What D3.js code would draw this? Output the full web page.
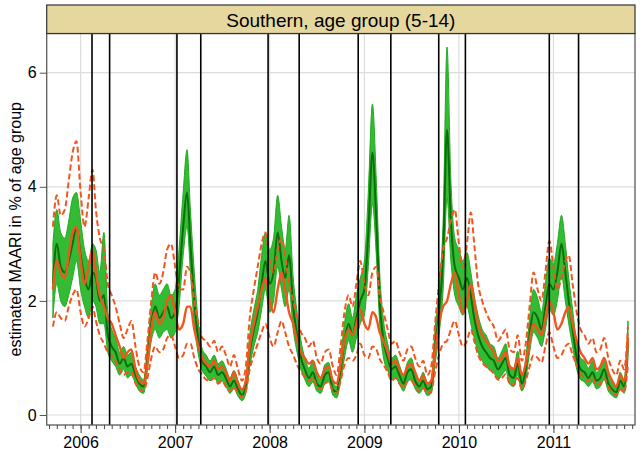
<!DOCTYPE html>
<html>
<head>
<meta charset="utf-8">
<script src="https://d3js.org/d3.v7.min.js"></script>
<style>
  body { margin: 0; background: #fff; }
  svg { display: block; font-family: "Liberation Sans", Arial, sans-serif; }
</style>
</head>
<body>
<svg id="chart" width="641" height="456"></svg>
<script>
// ---- data (semi-monthly samples, 16 Sep 2005 .. 16 Oct 2011) ----
const title = "Southern, age group (5-14)";
const yLabel = "estimated MAARI in % of age group";
const yTicks = [0, 2, 4, 6];
const yearTicks = [2006, 2007, 2008, 2009, 2010, 2011];

// start / end of epidemic periods (black vertical lines)
const periodLines = ["2006-02-14", "2006-04-23", "2007-01-08", "2007-04-10",
  "2007-12-26", "2008-04-24", "2008-12-08", "2009-04-13",
  "2009-10-15", "2010-01-26", "2010-12-16", "2011-04-08"];

// green: estimate (median) with band
const greenMed = [
  2.3, 3.0, 2.6, 2.5, 2.7, 3.0, 3.3, 2.8, 2.4, 2.2, 2.5, 2.4, 2.0, 2.1, 1.4, 1.2, 1.1, 0.9, 1.0, 0.85, 0.9, 0.7, 0.55, 0.5, 1.0,
  1.6, 1.9, 1.7, 1.8, 1.9, 1.7, 1.8, 2.4, 3.3, 3.9, 3.0, 2.0, 1.3, 0.95, 0.85, 0.75, 0.85, 0.7, 0.75, 0.65, 0.5, 0.6, 0.45, 0.35, 0.5,
  1.1, 1.5, 1.8, 2.3, 2.7, 2.3, 2.5, 3.2, 2.7, 2.4, 2.8, 1.9, 1.4, 1.0, 0.8, 0.65, 0.75, 0.55, 0.5, 0.7, 0.75, 0.45, 0.4, 0.8,
  1.3, 1.6, 1.4, 1.7, 2.0, 2.2, 3.2, 4.6, 3.4, 2.0, 1.3, 1.0, 0.8, 0.85, 0.7, 0.55, 0.75, 0.8, 0.6, 0.5, 0.6, 0.45, 0.5,
  1.2, 1.8, 2.8, 5.0, 3.4, 2.6, 2.4, 2.2, 2.4, 2.1, 1.7, 1.4, 1.2, 1.1, 1.0, 0.95, 0.8, 0.9, 1.0, 0.7, 0.65, 0.9, 0.55, 0.8,
  1.4, 1.8, 1.7, 1.5, 1.9, 2.3, 2.2, 2.5, 3.0, 2.5, 2.0, 1.5, 1.0, 0.8, 0.75, 0.65, 0.75, 0.6, 0.65, 0.8, 0.55, 0.45, 0.4, 0.6, 0.5, 1.3
];
const greenHi = [
  3.0, 3.6, 3.2, 3.1, 3.4, 3.8, 3.9, 3.4, 2.9, 2.7, 3.0, 2.9, 2.5, 3.2, 1.8, 1.5, 1.35, 1.1, 1.2, 1.05, 1.1, 0.85, 0.7, 0.62, 1.2,
  1.9, 2.3, 2.1, 2.2, 2.3, 2.1, 2.2, 2.9, 3.9, 4.65, 3.6, 2.5, 1.6, 1.15, 1.05, 0.95, 1.05, 0.9, 0.95, 0.82, 0.65, 0.78, 0.6, 0.45, 0.65,
  1.4, 1.85, 2.2, 2.8, 3.2, 2.9, 3.1, 3.85, 3.3, 2.9, 3.5, 2.4, 1.8, 1.3, 1.0, 0.82, 0.95, 0.7, 0.62, 0.88, 0.92, 0.58, 0.5, 1.0,
  1.6, 1.95, 1.7, 2.1, 2.4, 2.7, 3.9, 5.45, 4.1, 2.5, 1.65, 1.25, 1.0, 1.05, 0.88, 0.7, 0.92, 1.0, 0.75, 0.62, 0.75, 0.55, 0.62,
  1.5, 2.2, 3.4, 6.45, 4.1, 3.1, 2.9, 2.7, 2.85, 2.5, 2.1, 1.75, 1.5, 1.4, 1.25, 1.2, 1.0, 1.12, 1.25, 0.88, 0.82, 1.12, 0.7, 1.0,
  1.7, 2.2, 2.05, 1.8, 2.3, 2.75, 2.65, 3.0, 3.5, 3.0, 2.4, 1.85, 1.25, 1.0, 0.95, 0.82, 0.95, 0.75, 0.82, 1.0, 0.7, 0.58, 0.5, 0.75, 0.62, 1.65
];
const greenLo = [
  1.7, 2.3, 2.0, 1.9, 2.1, 2.4, 2.7, 2.2, 1.9, 1.7, 2.0, 1.9, 1.6, 1.6, 1.1, 0.95, 0.85, 0.7, 0.8, 0.65, 0.7, 0.55, 0.42, 0.38, 0.8,
  1.3, 1.5, 1.35, 1.45, 1.5, 1.35, 1.45, 1.9, 2.8, 3.3, 2.5, 1.6, 1.05, 0.78, 0.68, 0.6, 0.68, 0.55, 0.6, 0.5, 0.38, 0.46, 0.33, 0.25, 0.38,
  0.85, 1.2, 1.45, 1.85, 2.2, 1.8, 2.0, 2.6, 2.2, 1.9, 2.2, 1.5, 1.1, 0.8, 0.62, 0.5, 0.58, 0.42, 0.38, 0.55, 0.6, 0.35, 0.3, 0.6,
  1.0, 1.3, 1.1, 1.35, 1.6, 1.75, 2.6, 3.7, 2.8, 1.6, 1.0, 0.78, 0.62, 0.66, 0.54, 0.42, 0.58, 0.62, 0.46, 0.38, 0.46, 0.34, 0.38,
  0.9, 1.4, 2.2, 3.8, 2.7, 2.1, 1.9, 1.75, 1.9, 1.6, 1.35, 1.1, 0.95, 0.85, 0.78, 0.74, 0.62, 0.7, 0.78, 0.54, 0.5, 0.7, 0.42, 0.62,
  1.1, 1.45, 1.35, 1.2, 1.5, 1.85, 1.75, 2.0, 2.45, 2.0, 1.6, 1.2, 0.8, 0.62, 0.58, 0.5, 0.58, 0.46, 0.5, 0.62, 0.42, 0.34, 0.3, 0.46, 0.38, 1.0
];

// orange: model fit (solid) with bounds (dashed)
const orangeMid = [
  2.2, 2.7, 2.5, 2.4, 2.8, 3.2, 3.3, 2.7, 2.3, 2.6, 2.9, 2.5, 2.1, 1.9, 1.7, 1.6, 1.4, 1.2, 1.0, 1.1, 1.15, 0.8, 0.6, 0.55, 0.9,
  1.5, 1.8, 1.6, 1.7, 2.0, 2.1, 1.8, 1.5, 1.6, 1.9, 1.9, 1.5, 1.2, 1.0, 0.9, 0.85, 0.95, 0.8, 0.85, 0.75, 0.6, 0.75, 0.55, 0.45, 0.6,
  1.2, 1.6, 1.9, 2.2, 2.4, 2.0, 1.8, 2.2, 2.5, 2.2, 1.8, 1.6, 1.3, 1.1, 1.0, 0.9, 0.95, 0.75, 0.65, 0.8, 0.85, 0.6, 0.55, 0.9,
  1.3, 1.5, 1.4, 1.6, 1.85, 1.6, 1.5, 1.8, 1.7, 1.45, 1.3, 1.1, 0.9, 0.95, 0.8, 0.7, 0.85, 0.9, 0.75, 0.6, 0.7, 0.55, 0.6,
  1.1, 1.6, 1.9, 2.0, 2.3, 2.5, 2.1, 1.8, 2.0, 2.3, 2.0, 1.6, 1.4, 1.3, 1.2, 1.1, 0.95, 1.0, 1.1, 0.85, 0.8, 1.0, 0.7, 0.9,
  1.3, 1.6, 1.5, 1.4, 1.7, 2.0, 1.8, 1.5, 1.6, 1.8, 1.9, 1.6, 1.3, 1.1, 1.0, 0.9, 1.0, 0.8, 0.85, 1.0, 0.75, 0.6, 0.5, 0.7, 0.6, 1.35
];
const orangeHi = [
  3.3, 3.85, 3.5, 3.6, 4.1, 4.6, 4.8, 3.9, 3.3, 3.8, 4.3, 3.6, 3.1, 2.9, 2.3, 2.1, 1.9, 1.6, 1.35, 1.5, 1.65, 1.2, 0.85, 0.75, 1.3,
  2.0, 2.5, 2.3, 2.5, 2.9, 3.0, 2.6, 2.2, 2.2, 2.6, 2.5, 2.0, 1.6, 1.35, 1.3, 1.2, 1.3, 1.1, 1.2, 1.05, 0.85, 1.05, 0.8, 0.6, 0.85,
  1.7, 2.2, 2.6, 3.0, 3.2, 2.7, 2.5, 2.9, 3.1, 2.8, 2.3, 2.0, 1.7, 1.45, 1.35, 1.2, 1.3, 1.0, 0.9, 1.1, 1.15, 0.85, 0.7, 1.2,
  1.8, 2.1, 1.9, 2.3, 2.7, 2.3, 2.1, 2.5, 2.6, 2.1, 1.8, 1.5, 1.25, 1.3, 1.1, 0.95, 1.15, 1.2, 1.0, 0.85, 0.95, 0.7, 0.85,
  1.6, 2.3, 2.9, 3.1, 3.4, 3.6, 3.0, 2.6, 3.0, 3.55, 3.0, 2.3, 2.0, 1.8, 1.65, 1.55, 1.3, 1.4, 1.5, 1.15, 1.1, 1.4, 0.95, 1.25,
  1.9, 2.5, 2.2, 2.0, 2.5, 3.05, 2.6, 2.2, 2.4, 2.7, 2.8, 2.3, 1.8, 1.5, 1.4, 1.25, 1.35, 1.1, 1.15, 1.35, 1.0, 0.8, 0.7, 0.95, 0.8, 1.55
];
const orangeLo = [
  1.55, 1.8, 1.7, 1.65, 1.9, 2.1, 2.2, 1.8, 1.55, 1.7, 1.9, 1.65, 1.4, 1.25, 1.1, 1.05, 0.95, 0.8, 0.7, 0.75, 0.75, 0.55, 0.45, 0.42, 0.65,
  1.0, 1.2, 1.1, 1.15, 1.35, 1.4, 1.2, 1.0, 1.05, 1.25, 1.25, 1.0, 0.8, 0.7, 0.62, 0.6, 0.65, 0.55, 0.6, 0.5, 0.42, 0.5, 0.38, 0.32, 0.42,
  0.8, 1.05, 1.25, 1.45, 1.6, 1.35, 1.2, 1.45, 1.65, 1.45, 1.2, 1.05, 0.88, 0.75, 0.68, 0.6, 0.65, 0.5, 0.45, 0.55, 0.58, 0.42, 0.38, 0.6,
  0.88, 1.0, 0.95, 1.05, 1.25, 1.05, 1.0, 1.2, 1.15, 0.98, 0.88, 0.75, 0.6, 0.65, 0.55, 0.48, 0.58, 0.6, 0.5, 0.42, 0.48, 0.38, 0.42,
  0.75, 1.05, 1.25, 1.3, 1.5, 1.65, 1.4, 1.2, 1.3, 1.5, 1.3, 1.05, 0.92, 0.85, 0.8, 0.72, 0.62, 0.65, 0.72, 0.55, 0.52, 0.65, 0.45, 0.6,
  0.85, 1.05, 1.0, 0.92, 1.2, 1.45, 1.2, 1.0, 1.05, 1.2, 1.25, 1.05, 0.88, 0.72, 0.65, 0.6, 0.65, 0.52, 0.55, 0.65, 0.5, 0.4, 0.35, 0.45, 0.4, 0.9
];

// sample dates: 1st and 16th of each month
const sampleDates = [];
for (let yr = 2005; yr <= 2011; yr++) {
  for (let m = 0; m < 12; m++) {
    for (const d of [1, 16]) {
      const t = Date.UTC(yr, m, d);
      if (t >= Date.UTC(2005, 8, 16) && t <= Date.UTC(2011, 9, 16)) sampleDates.push(new Date(t));
    }
  }
}

// ---- layout ----
const svg = d3.select("#chart");
const panel = { left: 46.7, right: 635, top: 33.5, bottom: 425 };
const strip = { top: 5, bottom: 33.5 };

const x = d3.scaleUtc()
  .domain([new Date(Date.UTC(2005, 7, 23)), new Date(Date.UTC(2011, 10, 12))])
  .range([panel.left, panel.right]);
const y = d3.scaleLinear().domain([-0.175, 6.687]).range([panel.bottom, panel.top]);

const rows = sampleDates.map((d, i) => ({
  date: d, gMed: greenMed[i], gHi: greenHi[i], gLo: greenLo[i],
  oMid: orangeMid[i], oHi: orangeHi[i], oLo: orangeLo[i]
}));

svg.append("clipPath").attr("id", "clip")
  .append("rect")
  .attr("x", panel.left).attr("y", panel.top)
  .attr("width", panel.right - panel.left).attr("height", panel.bottom - panel.top);

// grid
const grid = svg.append("g");
grid.selectAll("line.h").data(yTicks).enter().append("line")
  .attr("x1", panel.left).attr("x2", panel.right)
  .attr("y1", d => y(d)).attr("y2", d => y(d))
  .attr("stroke", "#dcdcdc").attr("stroke-width", 1.2);
grid.selectAll("line.v").data(yearTicks).enter().append("line")
  .attr("x1", d => x(new Date(Date.UTC(d, 0, 1)))).attr("x2", d => x(new Date(Date.UTC(d, 0, 1))))
  .attr("y1", panel.top).attr("y2", panel.bottom)
  .attr("stroke", "#dcdcdc").attr("stroke-width", 1.2);

const body = svg.append("g").attr("clip-path", "url(#clip)");
const curve = d3.curveMonotoneX;

// green band and estimate
body.append("path").datum(rows)
  .attr("d", d3.area().x(d => x(d.date)).y0(d => y(d.gLo)).y1(d => y(d.gHi)).curve(curve))
  .attr("fill", "#33bb33").attr("stroke", "#22a822").attr("stroke-width", 1);
body.append("path").datum(rows)
  .attr("d", d3.line().x(d => x(d.date)).y(d => y(d.gMed)).curve(curve))
  .attr("fill", "none").attr("stroke", "#0b6e0b").attr("stroke-width", 2);

// orange fit and bounds
const orange = "#f0561e";
["oLo", "oHi"].forEach(k => {
  body.append("path").datum(rows)
    .attr("d", d3.line().x(d => x(d.date)).y(d => y(d[k])).curve(curve))
    .attr("fill", "none").attr("stroke", orange).attr("stroke-width", 2)
    .attr("stroke-dasharray", "6,3");
});
body.append("path").datum(rows)
  .attr("d", d3.line().x(d => x(d.date)).y(d => y(d.oMid)).curve(curve))
  .attr("fill", "none").attr("stroke", orange).attr("stroke-width", 2.4);

// epidemic period lines
body.selectAll("line.period").data(periodLines).enter().append("line")
  .attr("x1", d => x(new Date(d))).attr("x2", d => x(new Date(d)))
  .attr("y1", panel.top).attr("y2", panel.bottom)
  .attr("stroke", "#000").attr("stroke-width", 1.6);

// panel border
svg.append("rect")
  .attr("x", panel.left).attr("y", panel.top)
  .attr("width", panel.right - panel.left).attr("height", panel.bottom - panel.top)
  .attr("fill", "none").attr("stroke", "#5a5a5a").attr("stroke-width", 1.3);

// strip
svg.append("rect")
  .attr("x", panel.left).attr("y", strip.top)
  .attr("width", panel.right - panel.left).attr("height", strip.bottom - strip.top)
  .attr("fill", "#e6d79f").attr("stroke", "#333").attr("stroke-width", 1.2);
svg.append("text")
  .attr("x", (panel.left + panel.right) / 2).attr("y", (strip.top + strip.bottom) / 2 + 1)
  .attr("text-anchor", "middle").attr("dominant-baseline", "central")
  .attr("font-size", 19).attr("fill", "#000")
  .text(title);

// y axis
const yAxis = svg.append("g")
  .attr("transform", `translate(${panel.left},0)`)
  .call(d3.axisLeft(y).tickValues(yTicks).tickSize(7).tickPadding(3).tickFormat(d3.format("d")));
yAxis.select(".domain").remove();
yAxis.selectAll("line").attr("stroke", "#555");
yAxis.selectAll("text").attr("font-size", 16).attr("font-family", "Liberation Sans, Arial, sans-serif").attr("fill", "#000");

// x axis: monthly minor ticks, yearly labels
const xAxisMinor = svg.append("g")
  .attr("transform", `translate(0,${panel.bottom})`)
  .call(d3.axisBottom(x).ticks(d3.utcMonth.every(1)).tickSize(4).tickFormat(""));
xAxisMinor.select(".domain").remove();
xAxisMinor.selectAll("line").attr("stroke", "#444");
const xAxis = svg.append("g")
  .attr("transform", `translate(0,${panel.bottom})`)
  .call(d3.axisBottom(x).tickValues(yearTicks.map(d => new Date(Date.UTC(d, 0, 1))))
    .tickSize(8).tickPadding(4).tickFormat(d3.utcFormat("%Y")));
xAxis.select(".domain").remove();
xAxis.selectAll("line").attr("stroke", "#444");
xAxis.selectAll("text").attr("font-size", 16).attr("font-family", "Liberation Sans, Arial, sans-serif").attr("fill", "#000");

// y label
svg.append("text")
  .attr("transform", `translate(15,${(panel.top + panel.bottom) / 2}) rotate(-90)`)
  .attr("text-anchor", "middle").attr("dominant-baseline", "central")
  .attr("font-size", 16).attr("fill", "#000")
  .text(yLabel);
</script>
</body>
</html>
